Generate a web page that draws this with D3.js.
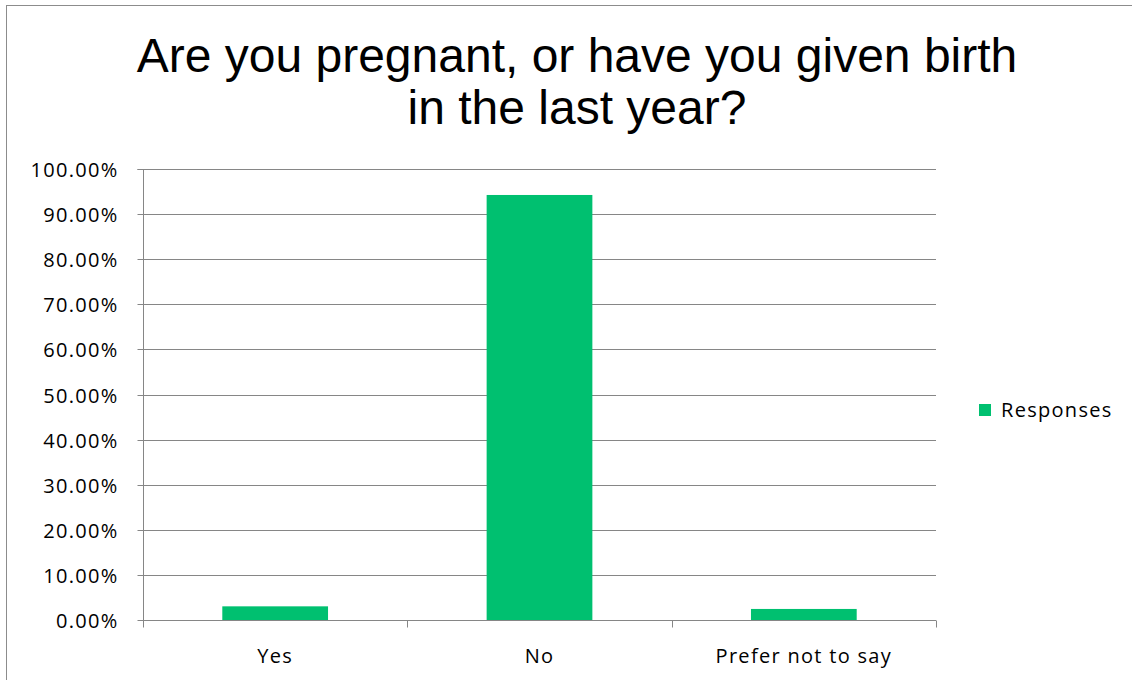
<!DOCTYPE html>
<html><head><meta charset="utf-8">
<script src="https://cdn.jsdelivr.net/npm/d3@7"></script>
<style>body{margin:0;background:#fff;}svg{display:block;}</style>
</head><body>
<script>
const categories = ["Yes", "No", "Prefer not to say"];
const responses = [0.0303, 0.9424, 0.0245];
const yTicks = [0, 0.1, 0.2, 0.3, 0.4, 0.5, 0.6, 0.7, 0.8, 0.9, 1.0];
const titleLines = ["Are you pregnant, or have you given birth", "in the last year?"];
const seriesName = "Responses";

const W = 1132, H = 680;
const svg = d3.select("body").append("svg").attr("width", W).attr("height", H);
svg.append("rect").attr("x", 6.5).attr("y", 5.5).attr("width", W + 10).attr("height", H + 10)
  .attr("fill", "#fff").attr("stroke", "#8c8c8c").attr("stroke-width", 1);

const m = {left: 143, right: 936, top: 169, bottom: 620};
const x = d3.scaleBand().domain(categories).range([m.left, m.right]).paddingInner(0.6).paddingOuter(0.3);
const xb = d3.scaleBand().domain(categories).range([m.left, m.right]);
const y = d3.scaleLinear().domain([0, 1]).range([m.bottom, m.top]);
const font = "'Open Sans', Lato, sans-serif";
const fs = 20;
const ls = 1.3;
const grey = "#868686";

// gridlines
svg.append("g").selectAll("line").data(yTicks.slice(1)).join("line")
  .attr("x1", m.left).attr("x2", m.right)
  .attr("y1", d => Math.round(y(d)) + 0.5).attr("y2", d => Math.round(y(d)) + 0.5)
  .attr("stroke", grey).attr("stroke-width", 1);

// y axis
const yAxis = d3.axisLeft(y).tickValues(yTicks).tickFormat(d => (d * 100).toFixed(2) + "%").tickSize(6).tickPadding(19);
const gy = svg.append("g").attr("transform", `translate(${m.left + 0.5},0.5)`).call(yAxis);
gy.select(".domain").attr("stroke", grey).attr("d", `M-6,${y(1)}H0V${y(0)}`);
gy.selectAll(".tick line").attr("stroke", grey);
gy.selectAll(".tick").attr("transform", d => `translate(0,${Math.round(y(d))})`);
gy.selectAll("text").attr("font-family", font).attr("font-size", fs).attr("letter-spacing", ls).attr("fill", "#000").attr("dy", "0.35em");

// bars
svg.append("g").selectAll("rect").data(categories).join("rect")
  .attr("x", d => x(d)).attr("width", x.bandwidth())
  .attr("y", (d, i) => y(responses[i])).attr("height", (d, i) => y(0) - y(responses[i]))
  .attr("fill", "#00C070");

// x axis
const gx = svg.append("g").attr("transform", `translate(0,${Math.round(y(0)) + 0.5})`);
gx.append("line").attr("x1", m.left).attr("x2", m.right).attr("stroke", grey);
const bounds = categories.map(c => xb(c)).concat([m.right]);
gx.selectAll(".tk").data(bounds).join("line").attr("class", "tk")
  .attr("x1", d => Math.round(d) + 0.5).attr("x2", d => Math.round(d) + 0.5).attr("y1", 0).attr("y2", 7).attr("stroke", grey);
gx.selectAll("text").data(categories).join("text")
  .attr("x", d => xb(d) + xb.bandwidth() / 2).attr("y", 42)
  .attr("text-anchor", "middle").attr("font-family", font).attr("font-size", fs).attr("letter-spacing", ls).attr("fill", "#000").text(d => d);

// title
svg.append("g").selectAll("text").data(titleLines).join("text")
  .attr("x", 577).attr("y", (d, i) => 72 + i * 52)
  .attr("text-anchor", "middle").attr("font-family", "'Liberation Sans', Arial, sans-serif").attr("font-size", 48).attr("fill", "#000").text(d => d);

// legend
const lg = svg.append("g").attr("transform", "translate(979,404)");
lg.append("rect").attr("width", 12).attr("height", 12).attr("fill", "#00C070");
lg.append("text").attr("x", 22).attr("y", 6).attr("dy", "0.35em").attr("font-family", font).attr("font-size", fs).attr("letter-spacing", ls).attr("fill", "#000").text(seriesName);
</script>
</body></html>
